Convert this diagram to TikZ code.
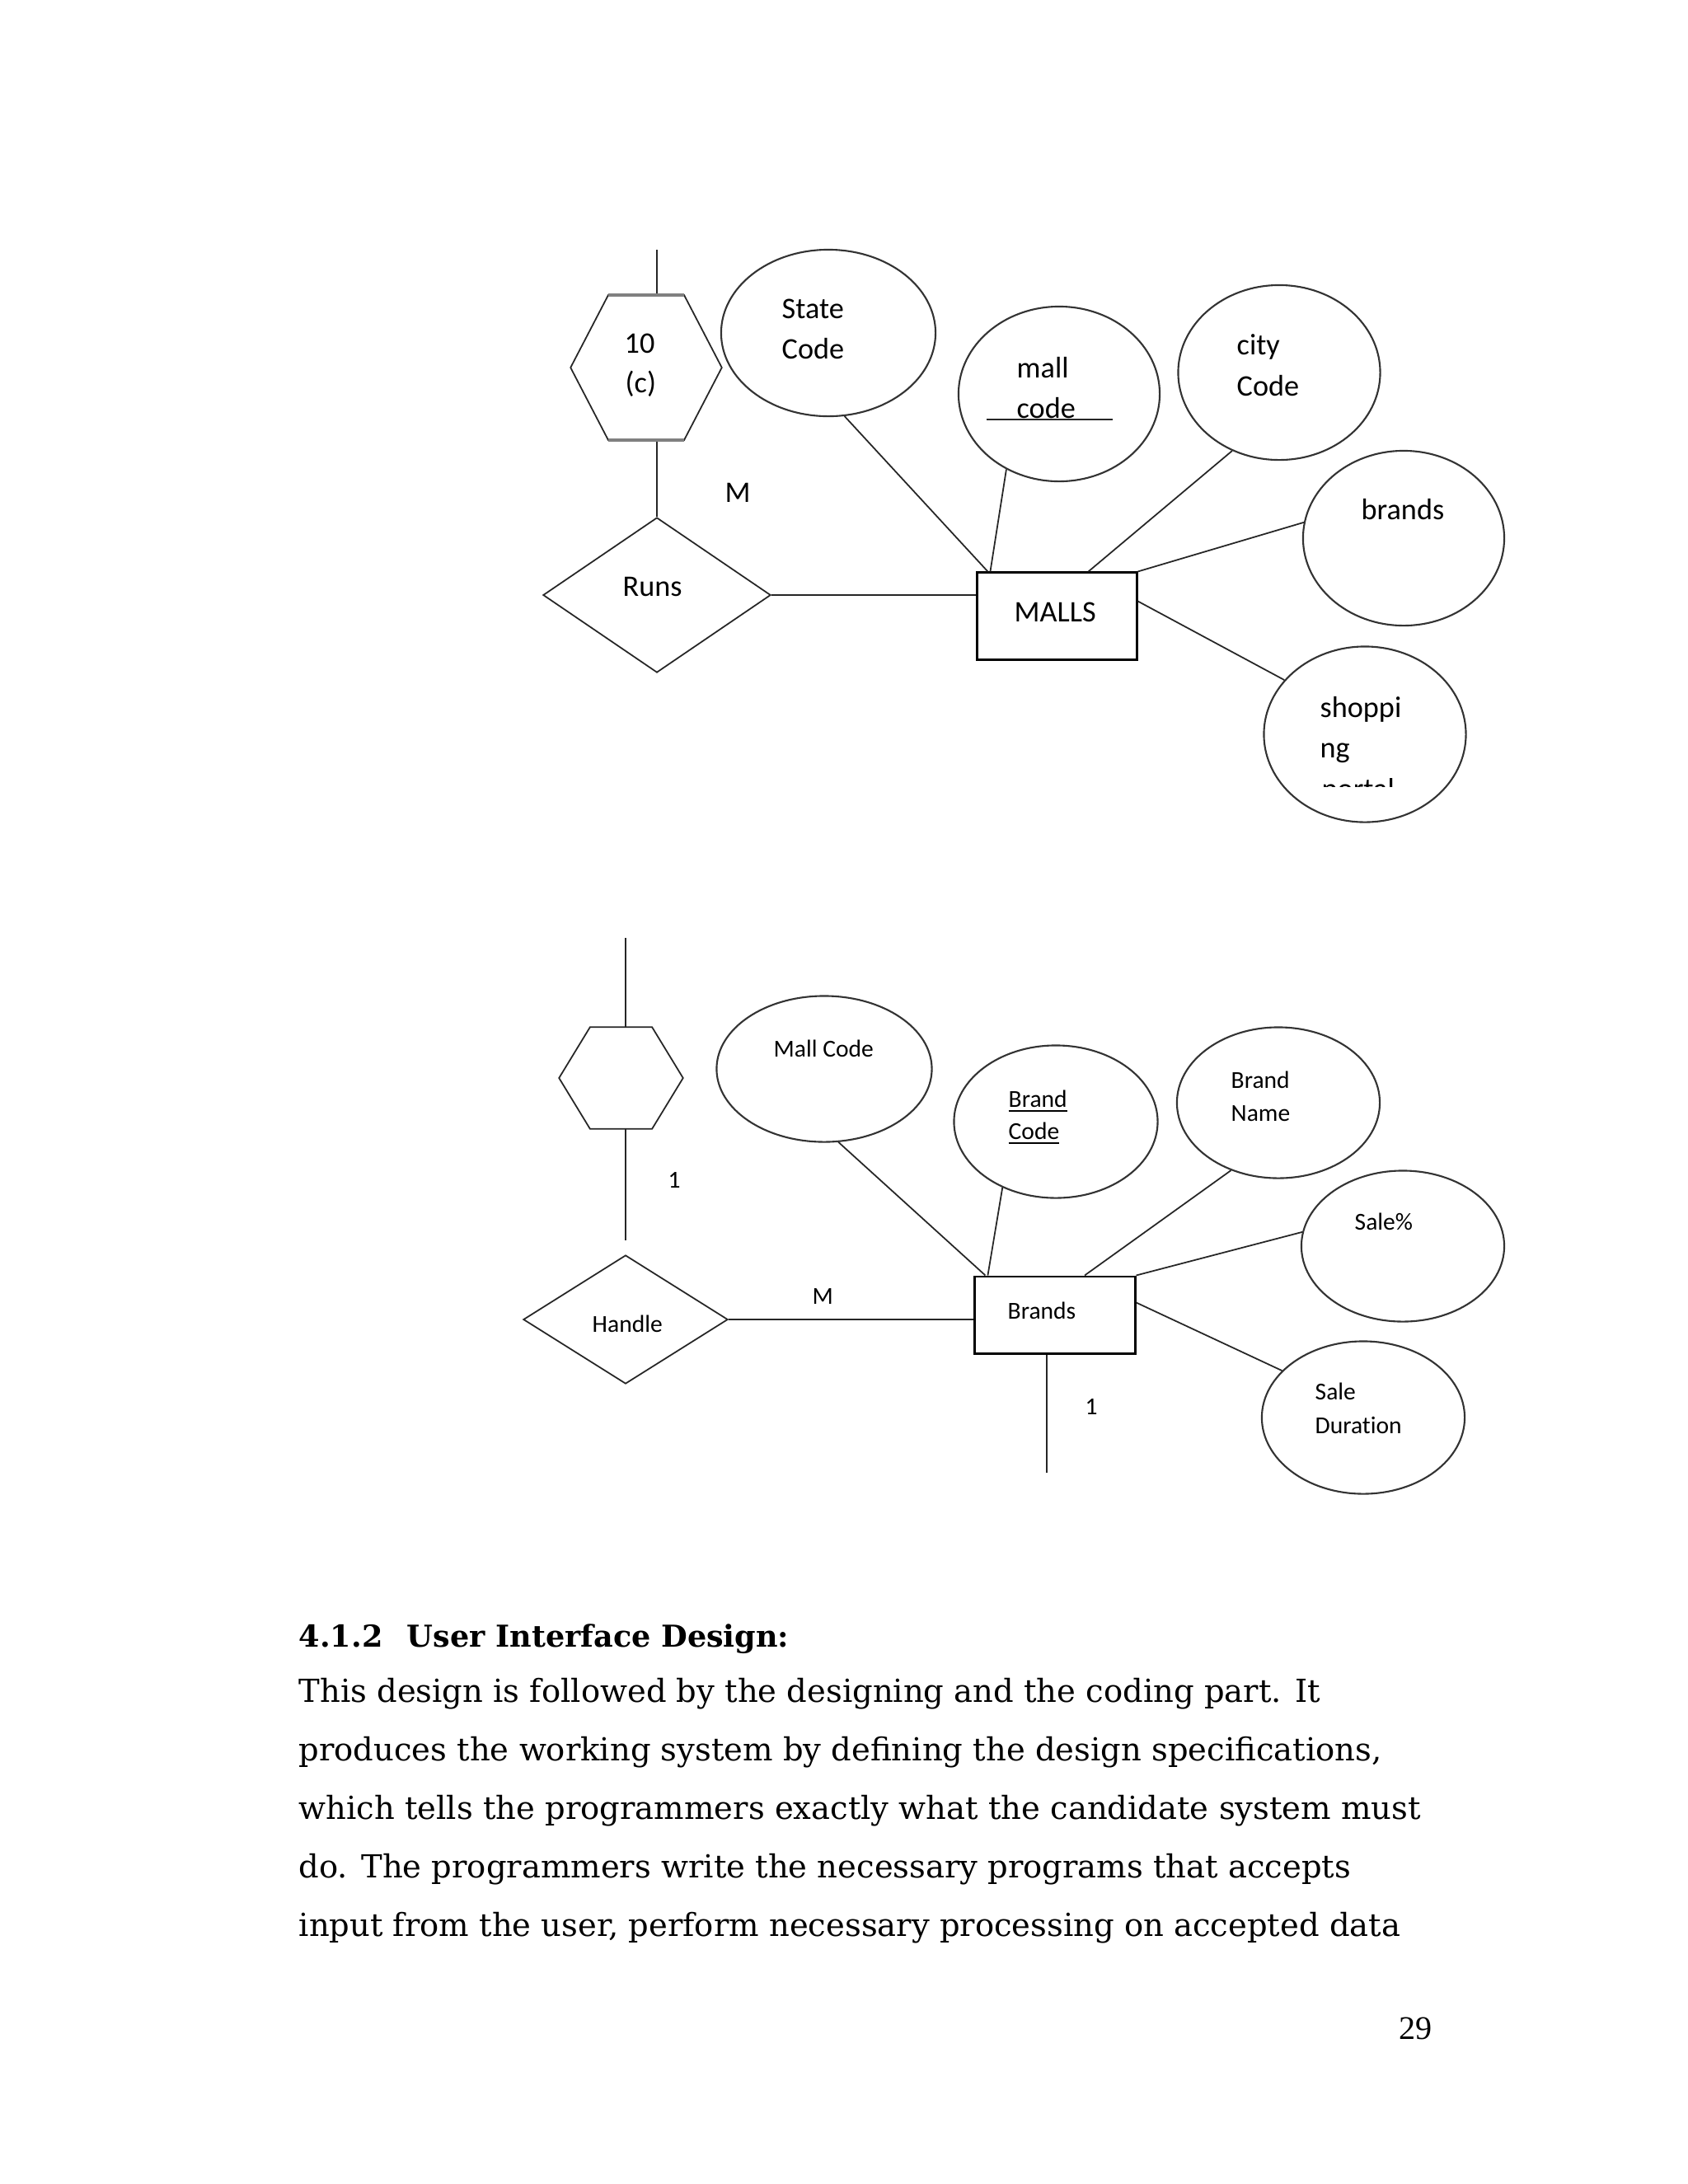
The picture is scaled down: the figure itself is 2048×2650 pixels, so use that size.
\documentclass[tikz,border=0pt]{standalone}
\usepackage{fontspec}
\setmainfont{DejaVu Serif}
\newfontfamily\calibri{Carlito}[Ligatures={NoCommon,NoRare}]
\newfontfamily\numfont{Liberation Serif}
\usetikzlibrary{shapes.geometric,calc}

\begin{document}
\begin{tikzpicture}[x=0.01cm, y=-0.01cm,
		ent/.style={draw, rectangle, line width=0.85pt, inner sep=0pt},
		attr/.style={draw=black!80, ellipse, line width=0.6pt, inner sep=0pt},
		rel/.style={draw=black!85, diamond, line width=0.5pt, inner sep=0pt},
		conn/.style={draw=black!85, line width=0.5pt},
		big/.style={anchor=base west, inner sep=0pt, font=\calibri\fontsize{10.3}{12}\selectfont},
		small/.style={anchor=base west, inner sep=0pt, font=\calibri\fontsize{8.4}{10}\selectfont},
		body/.style={anchor=base west, inner sep=0pt, font=\fontsize{10.95}{12}\selectfont}]

\fill[white] (0,0) rectangle (2048,2650);
\useasboundingbox (0,0) rectangle (2048,2650);

% MALLS diagram
\node[ent, minimum width=1.93cm, minimum height=1.05cm] (malls) at (1282.5,747.5) {};
\node[rel, minimum width=2.76cm, minimum height=1.88cm] (runs) at (797,722) {};
\node[minimum width=1.82cm, minimum height=1.75cm, inner sep=0pt] (hexA) at (784,446) {};
\node[attr, minimum width=2.60cm, minimum height=2.02cm] (stateE) at (1005,404) {};
\node[attr, minimum width=2.44cm, minimum height=2.12cm] (mallE) at (1285,478) {};
\node[attr, minimum width=2.45cm, minimum height=2.12cm] (cityE) at (1552,452) {};
\node[attr, minimum width=2.44cm, minimum height=2.12cm] (brandsE) at (1703,653) {};
\node[attr, minimum width=2.45cm, minimum height=2.13cm] (shopE) at (1656,891) {};

\node[big] (tenA) at (757,428) {10};
\node[big] (tenB) at (758,476) {(c)};
\node[big] (runsT) at (755,723) {Runs};
\node[big] (mA) at (879,609) {M};
\node[big] (stateA) at (948,386) {State};
\node[big] (stateB) at (948,435) {Code};
\node[big] (mallA) at (1233,458) {mall};
\node[big] (mallB) at (1233,507) {code};
\node[big] (cityA) at (1500,430) {city};
\node[big] (cityB) at (1500,480) {Code};
\node[big] (brandsT) at (1651,630) {brands};
\node[big] (mallsT) at (1230,754) {MALLS};
\node[big] (shopA) at (1601,870) {shoppi};
\node[big] (shopB) at (1601,919) {ng};
\begin{scope}
	\clip (1595,944) rectangle (1710,954);
	\node[big] (shopC) at (1603,969.5) {portal};
\end{scope}
\draw[conn] ([xshift=-0.36cm,yshift=-0.02cm]mallB.base west) -- ++(153,0);

\coordinate (hexAtop) at (797,303);
\draw[conn] (hexAtop) -- (hexAtop |- hexA.north);
\draw[conn] (runs.north |- hexA.south) -- (runs.north);
\draw[conn] (runs.east) -- (runs.east -| malls.west);
\draw[conn] (stateE.-79) -- ([xshift=0.14cm]malls.north west);
\draw[conn] (mallE.-125) -- ([xshift=0.17cm]malls.north west);
\draw[conn] (cityE.-121) -- ([xshift=0.38cm]malls.north);
\draw[conn] (malls.north east) -- (brandsE.171);
\draw[conn] ([yshift=0.18cm]malls.east) -- (shopE.146);

% Brands diagram
\node[ent, minimum width=1.94cm, minimum height=0.93cm] (brandsR) at (1280,1595.5) {};
\node[rel, minimum width=2.48cm, minimum height=1.56cm] (handle) at (759,1601) {};
\node[minimum width=1.49cm, minimum height=1.22cm, inner sep=0pt] (hexB) at (753.5,1308) {};
\node[attr, minimum width=2.61cm, minimum height=1.77cm] (mcodeE) at (1000,1297) {};
\node[attr, minimum width=2.47cm, minimum height=1.85cm] (bcodeE) at (1281,1361) {};
\node[attr, minimum width=2.46cm, minimum height=1.83cm] (bnameE) at (1551,1338) {};
\node[attr, minimum width=2.46cm, minimum height=1.83cm] (saleE) at (1702,1512) {};
\node[attr, minimum width=2.46cm, minimum height=1.85cm] (durE) at (1654,1720) {};

\node[small] (oneA) at (810,1441) {1};
\node[small] (handleT) at (718,1616) {Handle};
\node[small] (mB) at (985,1582) {M};
\node[small] (mcodeT) at (938,1282) {Mall Code};
\node[small] (bcodeA) at (1223,1343) {\underline{Brand}};
\node[small] (bcodeB) at (1223,1382) {\underline{Code}};
\node[small] (brandsT2) at (1222,1600) {Brands};
\node[small] (bnameA) at (1493,1320) {Brand};
\node[small] (bnameB) at (1493,1360) {Name};
\node[small] (saleT) at (1643,1492) {Sale\%};
\node[small] (durA) at (1595,1698) {Sale};
\node[small] (durB) at (1595,1739) {Duration};
\node[small] (oneB) at (1316,1716) {1};

\coordinate (hexBtop) at (759,1138);
\coordinate (brandsEnd) at (1270,1787);
\draw[conn] (hexBtop) -- (hexBtop |- hexB.north);
\draw[conn] (handle.north |- hexB.south) -- ([yshift=0.17cm]handle.north);
\draw[conn] (handle.east) -- (handle.east -| brandsR.west);
\draw[conn] (mcodeE.-79) -- ([xshift=0.14cm]brandsR.north west);
\draw[conn] (bcodeE.-129) -- ([xshift=0.17cm]brandsR.north west);
\draw[conn] (bnameE.-125) -- ([xshift=0.36cm]brandsR.north);
\draw[conn] (brandsR.north east) -- (saleE.172);
\draw[conn] ([yshift=0.15cm]brandsR.east) -- (durE.150);
\draw[conn] (brandsEnd |- brandsR.south) -- (brandsEnd);

% hexagons
\foreach \h in {hexA,hexB}
	\draw[conn] (\h.west) -- ($(\h.north west)!.25!(\h.north east)$) -- ($(\h.north west)!.75!(\h.north east)$)
		-- (\h.east) -- ($(\h.south west)!.75!(\h.south east)$) -- ($(\h.south west)!.25!(\h.south east)$) -- cycle;
\draw[gray, line width=1.1pt] ($(hexA.north west)!.25!(hexA.north east)$) -- ($(hexA.north west)!.75!(hexA.north east)$);
\draw[gray, line width=1.1pt] ($(hexA.south west)!.25!(hexA.south east)$) -- ($(hexA.south west)!.75!(hexA.south east)$);

% text below
\node[body, font=\bfseries\fontsize{10.4}{12}\selectfont] (head) at (362,1998) {4.1.2\hspace{0.8em}User Interface Design:};
\node[body] (lineA) at (362,2065) {This design is followed by the designing and the coding part. It};
\node[body] (lineB) at (362,2136) {produces the working system by defining the design specifications,};
\node[body] (lineC) at (362,2207) {which tells the programmers exactly what the candidate system must};
\node[body] (lineD) at (362,2278) {do. The programmers write the necessary programs that accepts};
\node[body] (lineE) at (362,2349) {input from the user, perform necessary processing on accepted data};
\node[anchor=base west, inner sep=0pt, font=\numfont\fontsize{11.4}{13}\selectfont] (pnum) at (1697,2474) {29};
\end{tikzpicture}
\end{document}
